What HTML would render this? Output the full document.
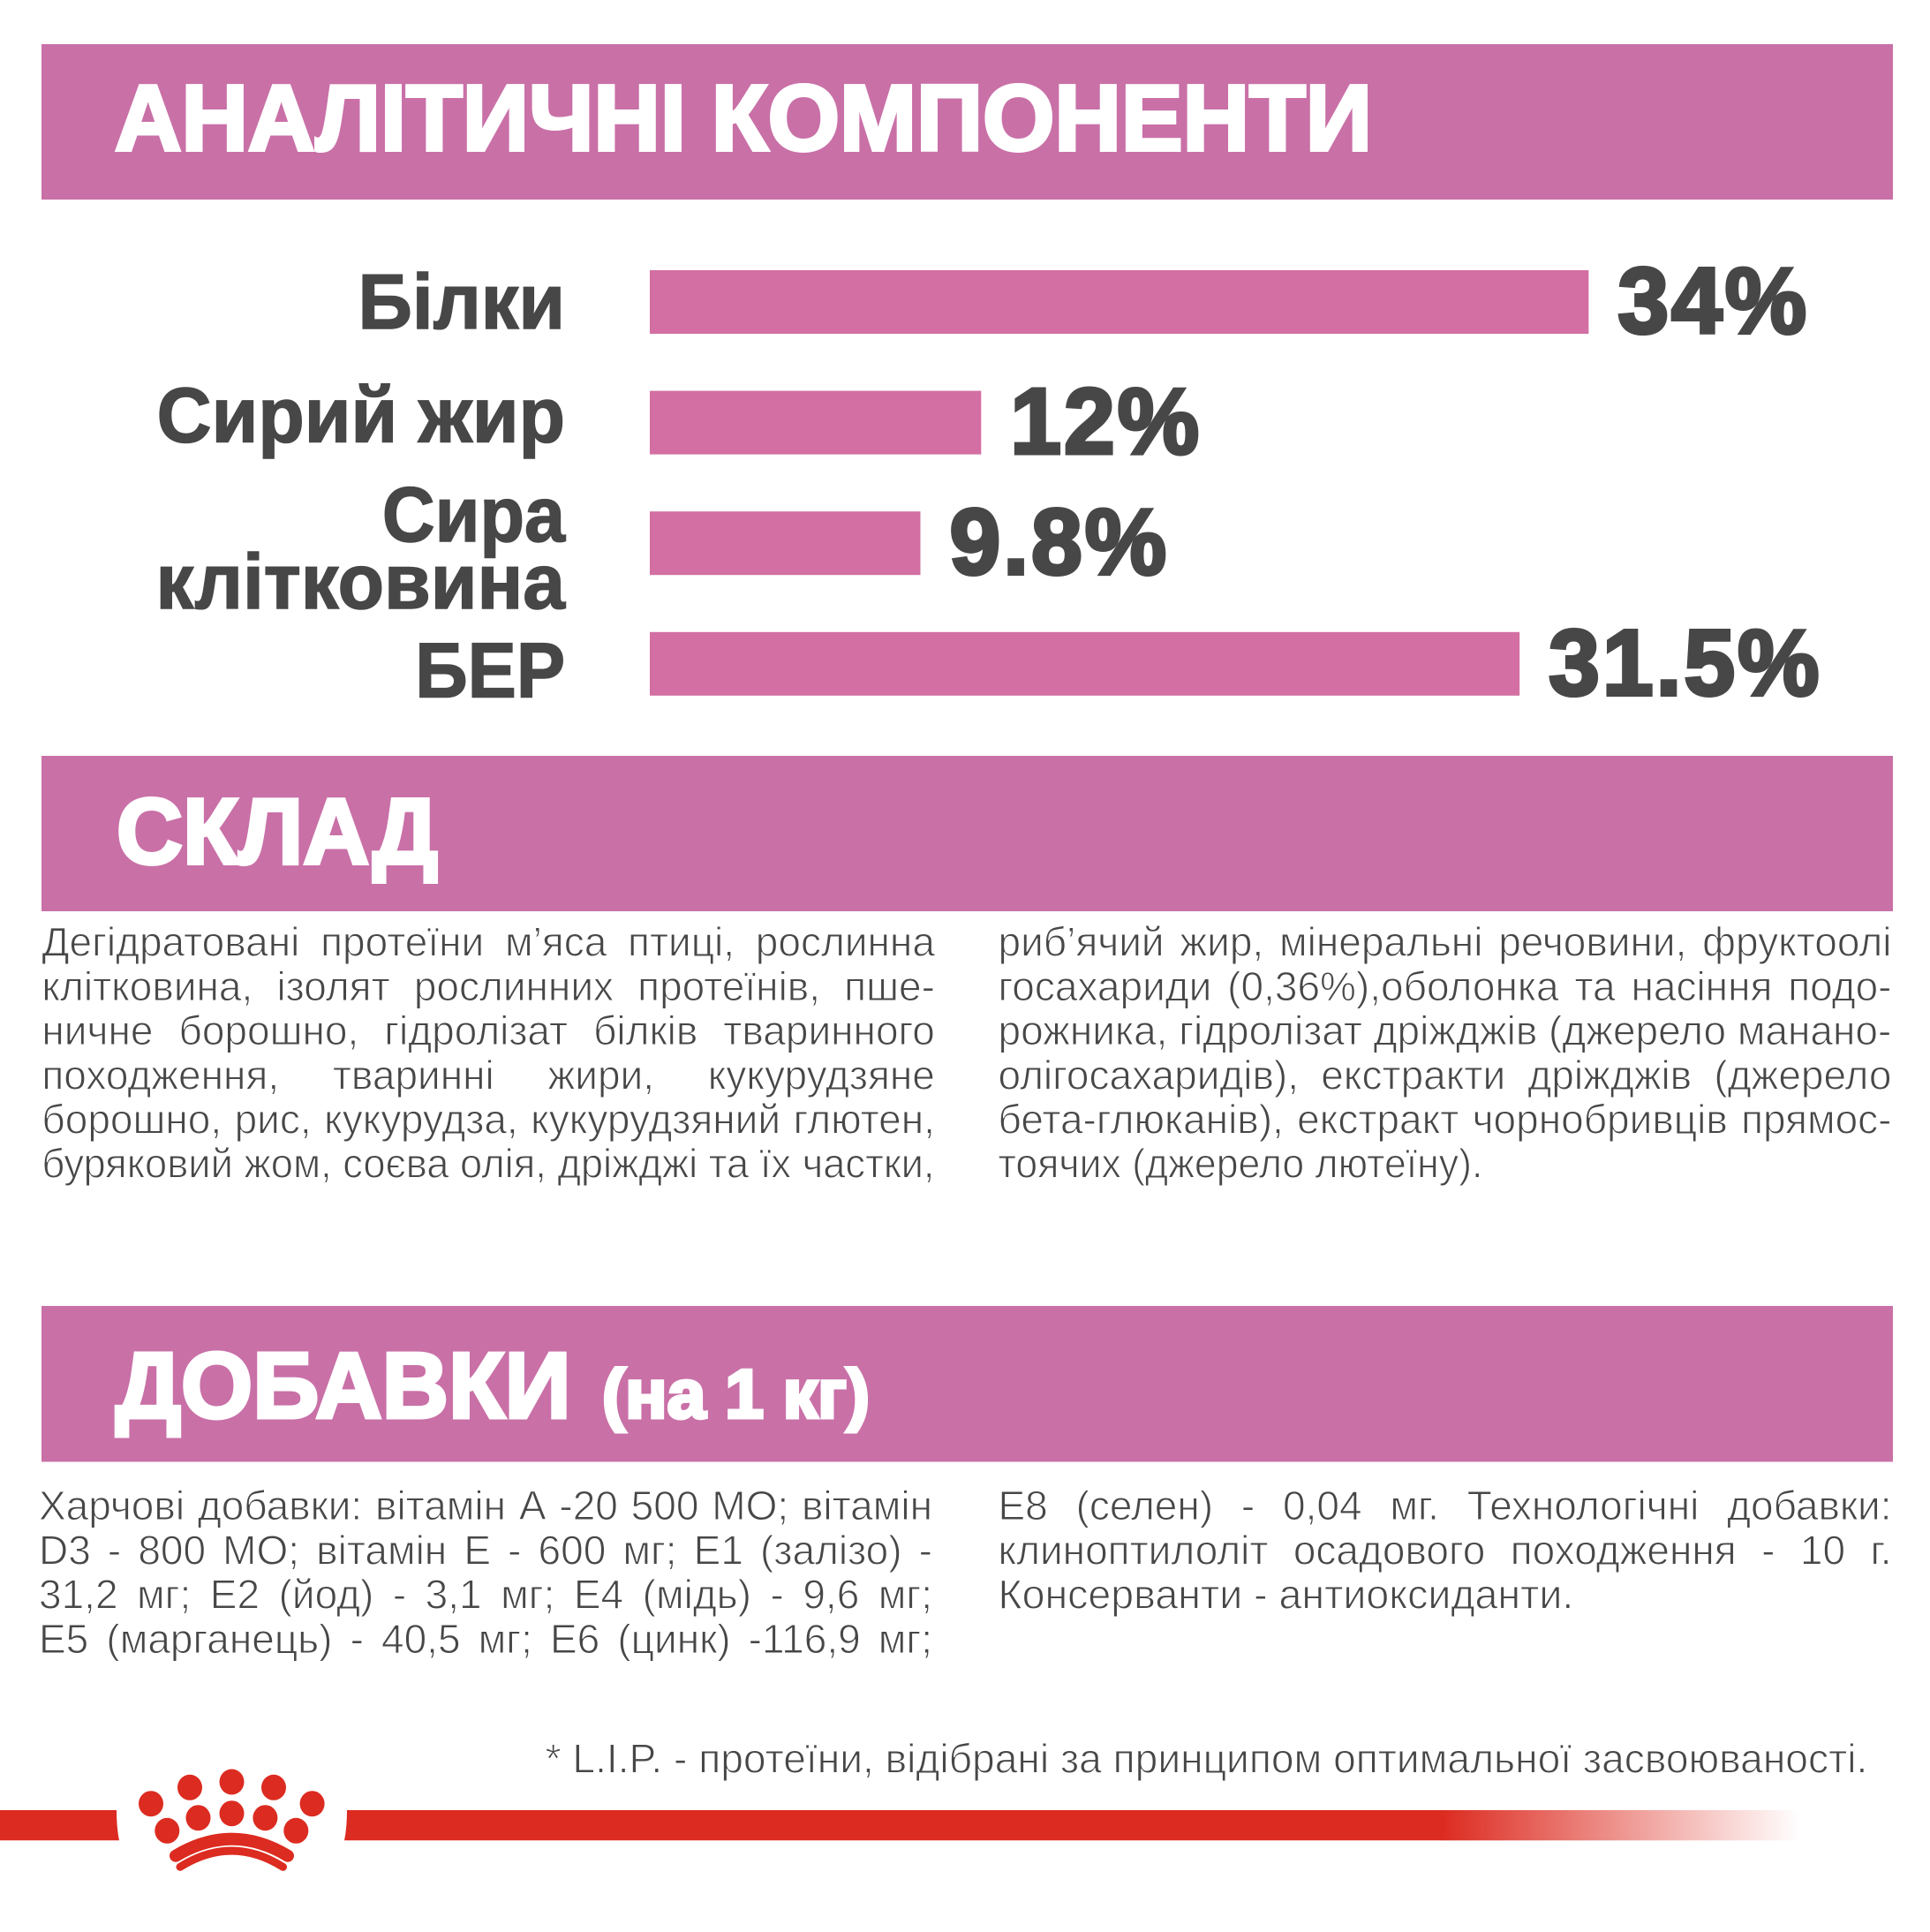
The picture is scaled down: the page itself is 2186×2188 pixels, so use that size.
<!DOCTYPE html>
<html lang="uk">
<head>
<meta charset="utf-8">
<title>Аналітичні компоненти</title>
<style>
html,body{margin:0;padding:0;background:#fff;width:2186px;height:2188px;overflow:hidden}
svg{display:block}
text{font-family:"Liberation Sans","DejaVu Sans",sans-serif}
.title{font-weight:700;fill:#fff;stroke:#fff;stroke-width:4px}
.cat{font-weight:700;font-size:88px;fill:#474747;stroke:#474747;stroke-width:1.5px}
.val{font-weight:700;font-size:106px;letter-spacing:3px;fill:#474747;stroke:#474747;stroke-width:4px}
.ln{font-size:46px;fill:#474747;stroke:#fff;stroke-width:1px;white-space:pre}
</style>
</head>
<body>
<svg id="page" xmlns="http://www.w3.org/2000/svg" width="2186" height="2188" viewBox="0 0 2186 2188">
  <defs>
    <linearGradient id="fade" gradientUnits="userSpaceOnUse" x1="1632" y1="0" x2="2038" y2="0">
      <stop offset="0" stop-color="#DC2B20"/>
      <stop offset="1" stop-color="#DC2B20" stop-opacity="0"/>
    </linearGradient>
  </defs>
  <rect width="2186" height="2188" fill="#fff"/>

  <rect x="47" y="50" width="2097" height="176" fill="#C970A7"/>
  <text class="title" x="130" y="170" font-size="106" textLength="1424" lengthAdjust="spacingAndGlyphs">АНАЛІТИЧНІ КОМПОНЕНТИ</text>

  <g id="chart"></g>

  <rect x="47" y="856" width="2097" height="176" fill="#C970A7"/>
  <text class="title" x="132" y="978" font-size="106" textLength="364" lengthAdjust="spacingAndGlyphs">СКЛАД</text>

  <g>
    <text class="ln" data-x="47.4" data-y="1082.7" data-w="1011.5">Дегідратовані протеїни м’яса птиці, рослинна</text>
    <text class="ln" data-x="47.4" data-y="1132.9" data-w="1011.5">клітковина, ізолят рослинних протеїнів, пше-</text>
    <text class="ln" data-x="47.4" data-y="1183.1" data-w="1011.5">ничне борошно, гідролізат білків тваринного</text>
    <text class="ln" data-x="47.4" data-y="1233.3" data-w="1011.5">походження, тваринні жири, кукурудзяне</text>
    <text class="ln" data-x="47.4" data-y="1283.5" data-w="1011.5">борошно, рис, кукурудза, кукурудзяний глютен,</text>
    <text class="ln" data-x="47.4" data-y="1333.7" data-w="1011.5">буряковий жом, соєва олія, дріжджі та їх частки,</text>
  </g>
  <g>
    <text class="ln" data-x="1130.5" data-y="1082.7" data-w="1012">риб’ячий жир, мінеральні речовини, фруктоолі</text>
    <text class="ln" data-x="1130.5" data-y="1132.9" data-w="1012">госахариди (0,36%),оболонка та насіння подо-</text>
    <text class="ln" data-x="1130.5" data-y="1183.1" data-w="1012">рожника, гідролізат дріжджів (джерело манано-</text>
    <text class="ln" data-x="1130.5" data-y="1233.3" data-w="1012">олігосахаридів), екстракти дріжджів (джерело</text>
    <text class="ln" data-x="1130.5" data-y="1283.5" data-w="1012">бета-глюканів), екстракт чорнобривців прямос-</text>
    <text class="ln" data-x="1130.5" data-y="1333.7" data-w="549" data-fit="1">тоячих (джерело лютеїну).</text>
  </g>

  <rect x="47" y="1479" width="2097" height="176.5" fill="#C970A7"/>
  <text class="title" x="130.7" y="1605.5" font-size="106" textLength="516" lengthAdjust="spacingAndGlyphs">ДОБАВКИ</text>
  <text class="title" x="682" y="1605.5" font-size="78" textLength="303" lengthAdjust="spacingAndGlyphs">(на 1 кг)</text>

  <g>
    <text class="ln" data-x="44" data-y="1721" data-w="1012">Харчові добавки: вітамін А -20 500 МО; вітамін</text>
    <text class="ln" data-x="44" data-y="1771.3" data-w="1012">D3 - 800 МО; вітамін Е - 600 мг; Е1 (залізо) -</text>
    <text class="ln" data-x="44" data-y="1821.6" data-w="1012">31,2 мг; Е2 (йод) - 3,1 мг; Е4 (мідь) - 9,6 мг;</text>
    <text class="ln" data-x="44" data-y="1871.9" data-w="1012">Е5 (марганець) - 40,5 мг; Е6 (цинк) -116,9 мг;</text>
  </g>
  <g>
    <text class="ln" data-x="1130.5" data-y="1721" data-w="1012">Е8 (селен) - 0,04 мг. Технологічні добавки:</text>
    <text class="ln" data-x="1130.5" data-y="1771.3" data-w="1012">клиноптилоліт осадового походження - 10 г.</text>
    <text class="ln" data-x="1130.5" data-y="1821.6" data-w="652" data-fit="1">Консерванти - антиоксиданти.</text>
  </g>

  <text class="ln" data-x="617.6" data-y="2007.5" data-w="1498" data-fit="1">* L.I.P. - протеїни, відібрані за принципом оптимальної засвоюваності.</text>

  <path d="M0 2050H132Q132 2070 135 2084.3H0Z" fill="#DC2B20"/>
  <path d="M393 2050H1633V2084.3H390Q393 2070 393 2050Z" fill="#DC2B20"/>
  <rect x="1632" y="2050" width="406" height="34.3" fill="url(#fade)"/>

  <g fill="#DC2B20">
    <ellipse cx="262.5" cy="2018" rx="14" ry="14.5"/>
    <ellipse cx="215" cy="2024.3" rx="14" ry="14.5"/>
    <ellipse cx="310" cy="2024.3" rx="14" ry="14.5"/>
    <ellipse cx="171" cy="2042.7" rx="14" ry="14.5"/>
    <ellipse cx="353.6" cy="2042.7" rx="14" ry="14.5"/>
    <ellipse cx="262.5" cy="2053.7" rx="14" ry="14.5"/>
    <ellipse cx="224.5" cy="2058.7" rx="14" ry="14.5"/>
    <ellipse cx="300.4" cy="2058.7" rx="14" ry="14.5"/>
    <ellipse cx="189.3" cy="2073.3" rx="14" ry="14.5"/>
    <ellipse cx="335.3" cy="2073.3" rx="14" ry="14.5"/>
    <path d="M199 2101.7Q262.5 2063.7 326 2101.7" fill="none" stroke="#DC2B20" stroke-width="14" stroke-linecap="round"/>
    <path d="M204 2114.3Q262.5 2077.7 320.5 2114.3" fill="none" stroke="#DC2B20" stroke-width="9" stroke-linecap="round"/>
  </g>
</svg>

<script>
const categories = [["Білки"], ["Сирий жир"], ["Сира", "клітковина"], ["БЕР"]];
const seriesValues = [34, 12, 9.8, 31.5];
const valueLabels = ["34%", "12%", "9.8%", "31.5%"];

const SVGNS = "http://www.w3.org/2000/svg";
function xScale(v) { return 736 + v * 31.275; }
function yBand(i) { return 306 + i * 136.6; }

function drawChart() {
  const chart = document.getElementById("chart");
  const bandHeight = 72;
  const catRight = 640;
  const catSqueeze = [[0.97], [0.975], [0.94, 0.975], [0.94]];
  const catBaselineOffsets = [[66], [58], [34, 110], [73.5]];
  categories.forEach(function (lines, i) {
    lines.forEach(function (line, k) {
      const t = document.createElementNS(SVGNS, "text");
      t.setAttribute("class", "cat");
      t.setAttribute("text-anchor", "end");
      t.setAttribute("transform", "translate(" + catRight + "," + (yBand(i) + catBaselineOffsets[i][k]) + ") scale(" + catSqueeze[i][k] + ",1)");
      t.textContent = line;
      
      
      chart.appendChild(t);
    });
    const bar = document.createElementNS(SVGNS, "rect");
    bar.setAttribute("x", xScale(0));
    bar.setAttribute("y", yBand(i));
    bar.setAttribute("width", xScale(seriesValues[i]) - xScale(0));
    bar.setAttribute("height", bandHeight);
    bar.setAttribute("fill", "#D36FA2");
    
    
    chart.appendChild(bar);

    const v = document.createElementNS(SVGNS, "text");
    v.setAttribute("class", "val");
    v.setAttribute("transform", "translate(" + (xScale(seriesValues[i]) + 33) + "," + (yBand(i) + bandHeight - 1) + ") scale(.98,1)");
    v.textContent = valueLabels[i];
    
    
    chart.appendChild(v);
  });
}

function fitLines() {
  const baseSqueeze = 1;
  document.querySelectorAll(".ln").forEach(function (t) {
    const x = +t.getAttribute("data-x");
    const y = +t.getAttribute("data-y");
    const w = +t.getAttribute("data-w");
    const natural = t.getComputedTextLength();
    let sx;
    if (t.getAttribute("data-fit")) {
      sx = w / natural;
    } else {
      sx = Math.min(baseSqueeze, w / natural);
      const gaps = (t.textContent.match(/ /g) || []).length;
      if (gaps) t.style.wordSpacing = ((w / sx - natural) / gaps) + "px";
    }
    t.setAttribute("transform", "translate(" + x + "," + y + ") scale(" + sx + ",1)");
  });
}

drawChart();
fitLines();
</script>
</body>
</html>
